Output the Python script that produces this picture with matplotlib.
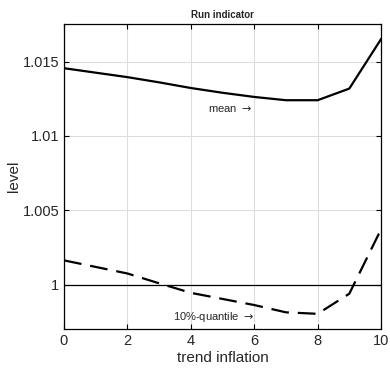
import matplotlib.pyplot as plt
import numpy as np

plt.rcParams['font.family'] = ['Liberation Sans', 'DejaVu Sans']
plt.rcParams['text.color'] = "#262626"
plt.rcParams['axes.labelcolor'] = "#262626"
plt.rcParams['xtick.labelcolor'] = "#262626"
plt.rcParams['ytick.labelcolor'] = "#262626"

trend = [0, 1, 2, 3, 4, 5, 6, 7, 8, 9, 10]
meanLevel = [1.01455, 1.01425, 1.01395, 1.01360, 1.01322, 1.01290, 1.01262, 1.01240, 1.01240, 1.01318, 1.01650]
q10Level = [1.00164, 1.00120, 1.00076, 1.00010, 0.99946, 0.99905, 0.99864, 0.99815, 0.99805, 0.99940, 1.00372]

fig = plt.figure(figsize=(3.9, 3.76), dpi=100)
ax = fig.add_axes([64/390, 1-329/376, 317/390, 305/376])

ax.plot(trend, meanLevel, color="black", lw=1.6)
ax.plot(trend, q10Level, color="black", lw=1.6, linestyle=(0, (8, 4)))
ax.axhline(1, color="black", lw=0.9)

ax.text(5.25, 1.01181, "mean $\\rightarrow$", fontsize=8, ha="center", va="center")
ax.text(4.7, 0.99785, "10%-quantile $\\rightarrow$", fontsize=8, ha="center", va="center")

ax.set_xlim(0, 10)
ax.set_ylim(0.99703, 1.01752)
ax.set_xticks([0, 2, 4, 6, 8, 10])
ax.set_yticks([1, 1.005, 1.01, 1.015])
ax.set_yticklabels(["1", "1.005", "1.01", "1.015"])
ax.grid(True, color="#dddddd", lw=0.8)
ax.tick_params(direction="in", top=True, right=True, labelsize=10.5, length=3.5)
for s in ax.spines.values():
    s.set_linewidth(0.9)
ax.set_xlabel("trend inflation", fontsize=11, labelpad=2)
ax.set_ylabel("level", fontsize=11, labelpad=1)
ax.set_title("Run indicator", fontsize=7, fontweight="bold", pad=4)

fig.savefig("out.png", dpi=100)
